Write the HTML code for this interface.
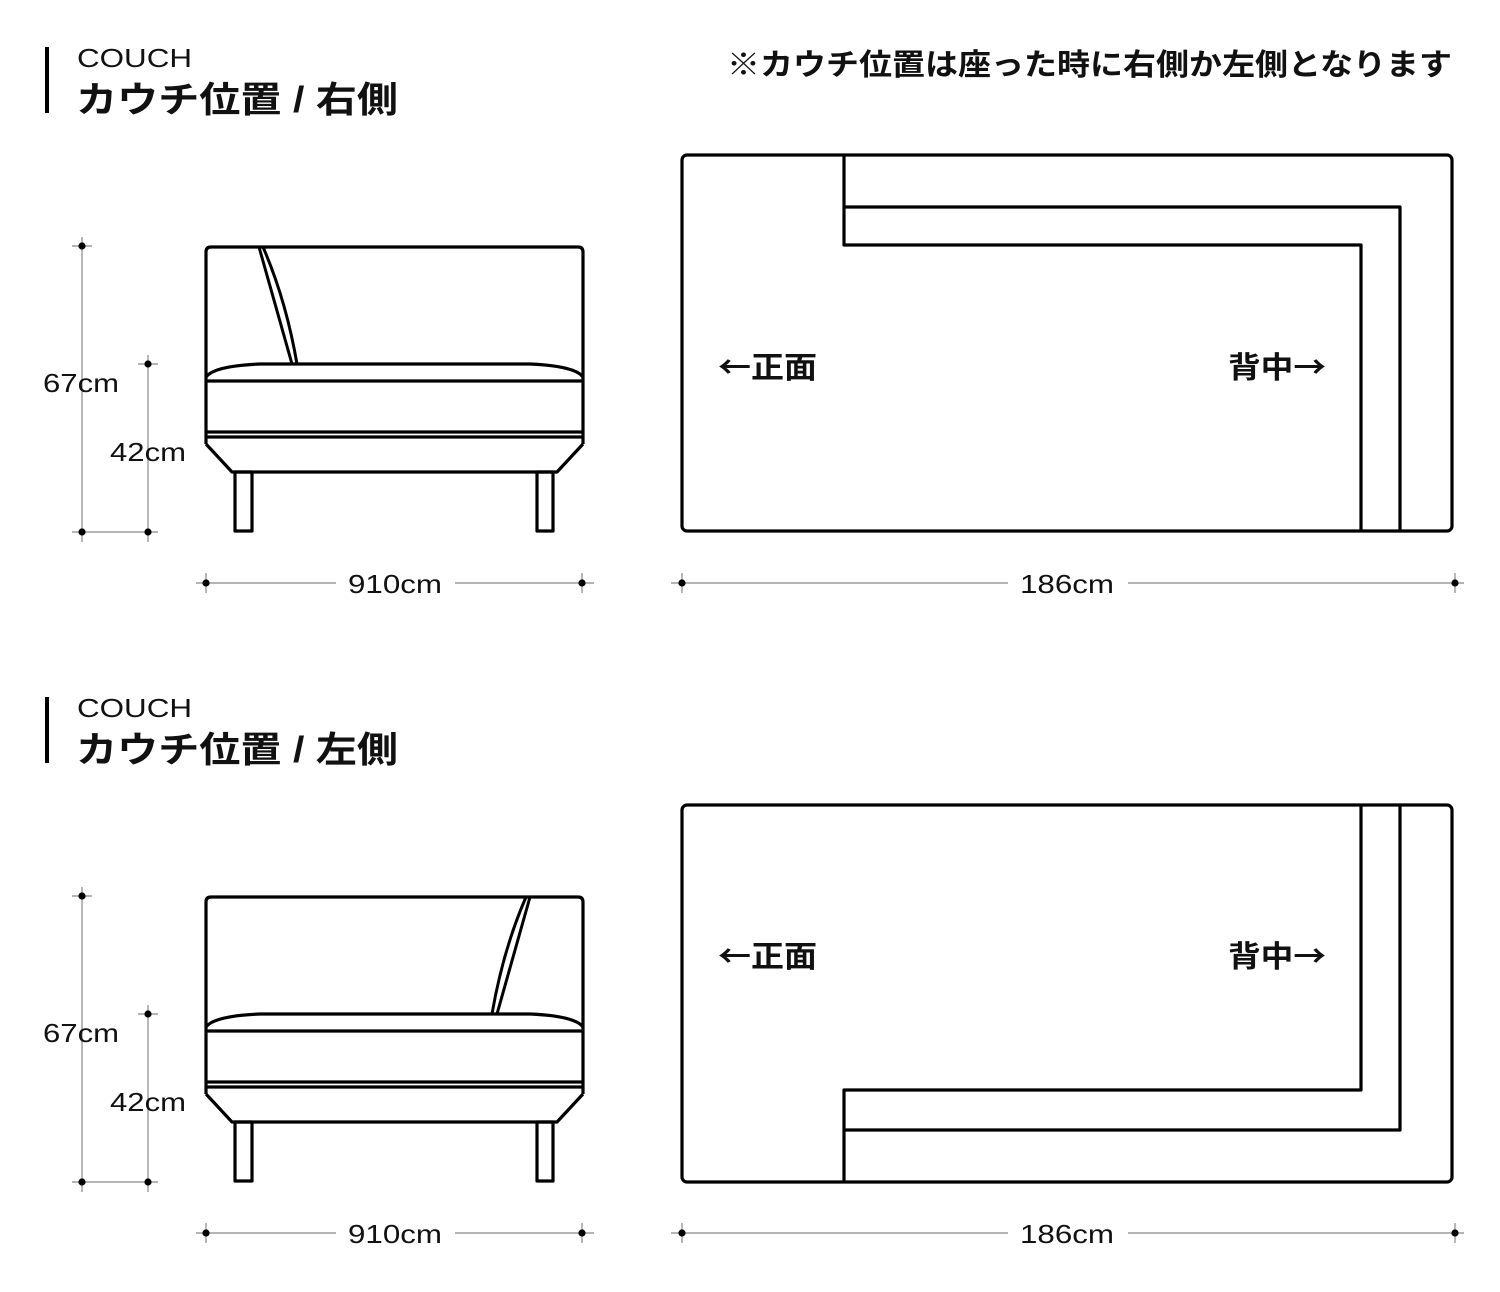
<!DOCTYPE html>
<html><head><meta charset="utf-8"><style>
html,body{margin:0;padding:0;background:#fff;}
svg{display:block;}
text{font-family:"Liberation Sans","Noto Sans CJK JP",sans-serif;}
.cjk{font-family:"Noto Sans CJK JP",sans-serif;}
</style></head><body>
<svg width="1500" height="1292" viewBox="0 0 1500 1292" xmlns="http://www.w3.org/2000/svg">
<defs>
<g id="sofa" fill="none" stroke="#000" stroke-width="3.2" stroke-linejoin="round">
  <path d="M206,444 L206,252 Q206,247 211,247 L578,247 Q583,247 583,252 L583,444"/>
  <path d="M206,377 Q214,366 260,364 L530,364 Q575,366 583,377"/>
  <line x1="206" y1="381" x2="583" y2="381"/>
  <line x1="206" y1="432" x2="583" y2="432"/>
  <line x1="206" y1="437" x2="583" y2="437"/>
  <path d="M206,444 L232,472 L557,472 L583,444"/>
  <rect x="235" y="472" width="17" height="59"/>
  <rect x="537" y="472" width="16" height="59"/>
</g>
<g id="back" fill="none" stroke="#000" stroke-width="3">
  <line x1="259" y1="247" x2="292" y2="364"/>
  <path d="M263,247 Q286,300 297,364"/>
</g>
<g id="dims" stroke="#888" stroke-width="1.2" fill="#000">
  <line x1="82" y1="237" x2="82" y2="542"/>
  <line x1="148" y1="355" x2="148" y2="542"/>
  <line x1="72" y1="246" x2="92" y2="246"/>
  <line x1="138" y1="364" x2="158" y2="364"/>
  <line x1="72" y1="532" x2="158" y2="532"/>
  <line x1="196" y1="583" x2="336" y2="583"/>
  <line x1="455" y1="583" x2="594" y2="583"/>
  <line x1="206" y1="573" x2="206" y2="593"/>
  <line x1="582" y1="573" x2="582" y2="593"/>
  <line x1="671" y1="583" x2="1008" y2="583"/>
  <line x1="1128" y1="583" x2="1464" y2="583"/>
  <line x1="682" y1="573" x2="682" y2="593"/>
  <line x1="1455" y1="573" x2="1455" y2="593"/>
  <g stroke="none">
    <circle cx="82" cy="246" r="3.6"/><circle cx="82" cy="532" r="3.6"/>
    <circle cx="148" cy="364" r="3.6"/><circle cx="148" cy="532" r="3.6"/>
    <circle cx="206" cy="583" r="3.6"/><circle cx="582" cy="583" r="3.6"/>
    <circle cx="682" cy="583" r="3.6"/><circle cx="1455" cy="583" r="3.6"/>
  </g>
  <g stroke="none" font-size="26" fill="#111">
    <text x="81" y="392" text-anchor="middle" textLength="76" lengthAdjust="spacingAndGlyphs">67cm</text>
    <text x="148" y="461" text-anchor="middle" textLength="76" lengthAdjust="spacingAndGlyphs">42cm</text>
    <text x="395" y="593" text-anchor="middle" textLength="94" lengthAdjust="spacingAndGlyphs">910cm</text>
    <text x="1067" y="593" text-anchor="middle" textLength="94" lengthAdjust="spacingAndGlyphs">186cm</text>
  </g>
</g>
</defs>

<!-- Header 1 -->
<rect x="45" y="47" width="4" height="66" fill="#000"/>
<text x="77" y="67" font-size="26" fill="#111" textLength="115" lengthAdjust="spacingAndGlyphs">COUCH</text>
<text x="76" y="112" font-size="36" font-weight="bold" fill="#111" textLength="322" lengthAdjust="spacingAndGlyphs">カウチ位置 / 右側</text>
<text x="727" y="75" font-size="30" font-weight="bold" fill="#111" textLength="725" lengthAdjust="spacingAndGlyphs">※カウチ位置は座った時に右側か左側となります</text>

<use href="#sofa"/>
<use href="#back"/>
<use href="#dims"/>

<g fill="none" stroke="#000" stroke-width="3.2" stroke-linejoin="round">
  <rect x="682" y="155" width="770" height="376" rx="5"/>
  <path d="M844,155 L844,245 L1361,245 L1361,531"/>
  <path d="M844,207 L1400,207 L1400,531"/>
</g>
<text class="cjk" x="718" y="378" font-size="30" font-weight="bold" fill="#111" textLength="99" lengthAdjust="spacingAndGlyphs">←正面</text>
<text class="cjk" x="1228" y="378" font-size="30" font-weight="bold" fill="#111" textLength="98" lengthAdjust="spacingAndGlyphs">背中→</text>

<!-- Header 2 -->
<rect x="45" y="697" width="4" height="66" fill="#000"/>
<text x="77" y="717" font-size="26" fill="#111" textLength="115" lengthAdjust="spacingAndGlyphs">COUCH</text>
<text x="76" y="762" font-size="36" font-weight="bold" fill="#111" textLength="322" lengthAdjust="spacingAndGlyphs">カウチ位置 / 左側</text>

<g transform="translate(0,650)">
  <use href="#sofa"/>
  <g transform="translate(789,0) scale(-1,1)"><use href="#back"/></g>
  <use href="#dims"/>
</g>

<g fill="none" stroke="#000" stroke-width="3.2" stroke-linejoin="round">
  <rect x="682" y="805" width="770" height="377" rx="5"/>
  <path d="M1361,805 L1361,1090 L844,1090 L844,1182"/>
  <path d="M1400,805 L1400,1130 L844,1130"/>
</g>
<text class="cjk" x="718" y="967" font-size="30" font-weight="bold" fill="#111" textLength="99" lengthAdjust="spacingAndGlyphs">←正面</text>
<text class="cjk" x="1228" y="967" font-size="30" font-weight="bold" fill="#111" textLength="98" lengthAdjust="spacingAndGlyphs">背中→</text>
</svg>
</body></html>
